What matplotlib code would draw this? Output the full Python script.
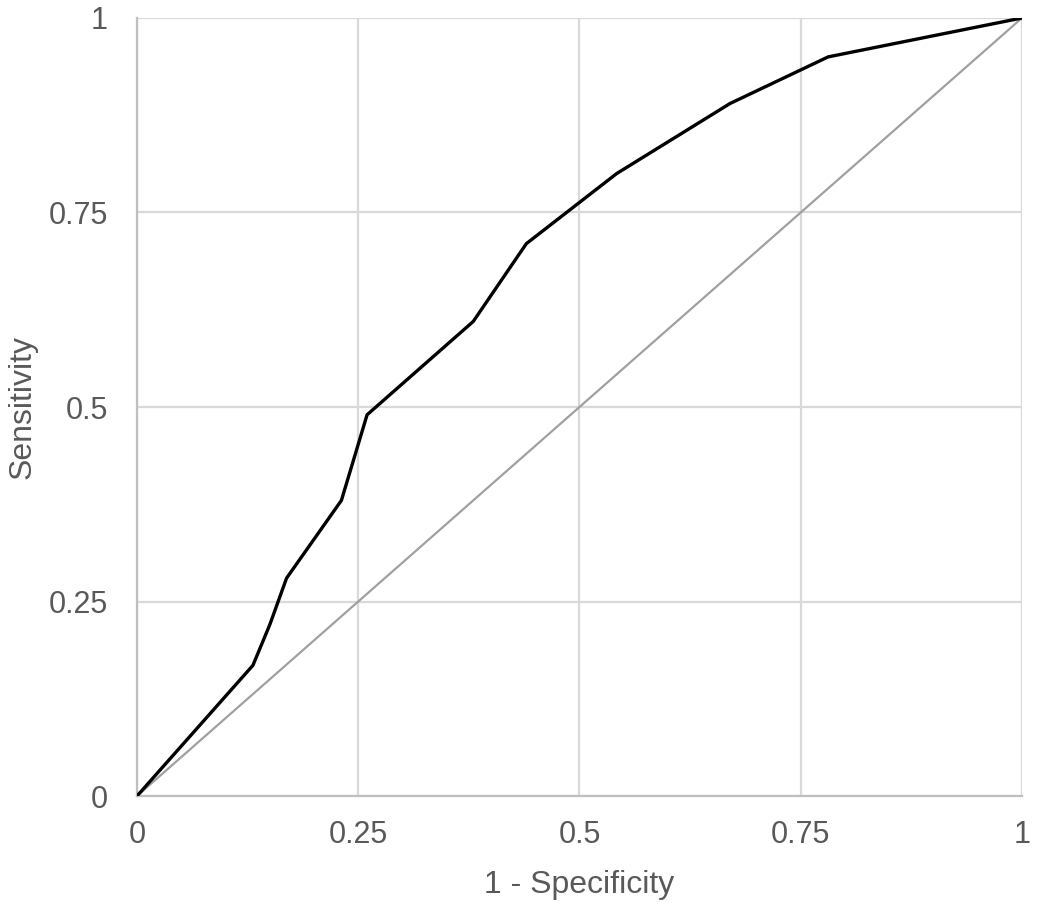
import matplotlib
matplotlib.use("Agg")
import matplotlib.pyplot as plt

# ROC curve points
fpr = [0, 0.131, 0.15, 0.169, 0.231, 0.26, 0.38, 0.44, 0.542, 0.67, 0.781, 1]
tpr = [0, 0.168, 0.22, 0.28, 0.38, 0.49, 0.61, 0.71, 0.80, 0.89, 0.95, 1]

ref_line = [0, 1]
ticks = [0, 0.25, 0.5, 0.75, 1]
tick_labels = ["0", "0.25", "0.5", "0.75", "1"]

plt.rcParams["font.family"] = ["Liberation Sans", "DejaVu Sans"]

fig = plt.figure(figsize=(10.37, 9.08), dpi=100)
ax = fig.add_axes([0.1321, 0.1233, 0.8534, 0.8569])

grid_color = "#d9d9d9"
text_color = "#595959"

ax.plot(ref_line, ref_line, color="#a0a0a0", lw=1.6, zorder=2)
ax.plot(fpr, tpr, color="black", lw=2.4, zorder=3, solid_joinstyle="miter")

ax.set_xlim(0, 1)
ax.set_ylim(0, 1)
ax.set_xticks(ticks)
ax.set_yticks(ticks)
ax.set_xticklabels(tick_labels)
ax.set_yticklabels(tick_labels)
ax.grid(True, color=grid_color, lw=1.6, zorder=0)
ax.set_axisbelow(True)

for side in ["top", "right"]:
    ax.spines[side].set_visible(False)
for side in ["left", "bottom"]:
    ax.spines[side].set_color("#bfbfbf")
    ax.spines[side].set_linewidth(1.6)

ax.tick_params(axis="both", length=0, labelsize=22, colors=text_color)
ax.tick_params(axis="x", pad=17)
ax.tick_params(axis="y", pad=21)

ax.set_xlabel("1 - Specificity", fontsize=23, color=text_color, labelpad=15)
ax.set_ylabel("Sensitivity", fontsize=23, color=text_color, labelpad=8)

fig.savefig("out.png", dpi=100, facecolor="white")
